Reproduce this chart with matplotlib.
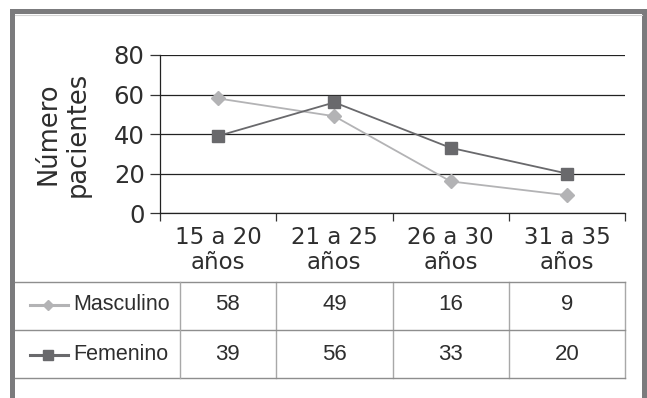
import matplotlib
matplotlib.use("Agg")
import matplotlib.pyplot as plt
from matplotlib.lines import Line2D
from matplotlib.patches import Rectangle
from matplotlib.transforms import blended_transform_factory

# Data
categories = ["15 a 20\naños", "21 a 25\naños", "26 a 30\naños", "31 a 35\naños"]
series_names = ["Masculino", "Femenino"]
masculino = [58, 49, 16, 9]
femenino = [39, 56, 33, 20]
y_ticks = [0, 20, 40, 60, 80]
y_label = "Número\npacientes"

W, H = 647, 398
fig = plt.figure(figsize=(W / 100, H / 100), dpi=100)
fig.patch.set_facecolor("white")
text_col = "#2e2e2e"


def fx(px):
    return px / W


def fy(py):
    return 1 - py / H


# Outer gray frame (open at the bottom)
frame_col = "#7b7b7d"
fig.add_artist(Rectangle((fx(10), fy(14)), fx(637), 5 / H, transform=fig.transFigure,
                         color=frame_col, lw=0))
fig.add_artist(Rectangle((fx(10), 0), fx(5), fy(9), transform=fig.transFigure,
                         color=frame_col, lw=0))
fig.add_artist(Rectangle((fx(642), 0), fx(5), fy(9), transform=fig.transFigure,
                         color=frame_col, lw=0))
fig.add_artist(Line2D([fx(15), fx(642)], [fy(15), fy(15)], transform=fig.transFigure,
                      color="#d4d4d4", lw=0.8))

# Plot area
ax = fig.add_axes([fx(160), fy(213), fx(625 - 160), (213 - 55) / H])
n = len(categories)
xs = [i + 0.5 for i in range(n)]

ax.set_xlim(0, n)
ax.set_ylim(0, 80)
ax.set_yticks(y_ticks)
ax.set_yticklabels([str(v) for v in y_ticks], fontsize=17.5, color=text_col,
                   family="DejaVu Sans")
ax.set_xticks(range(n + 1))
ax.set_xticklabels([])
ax.tick_params(axis="y", direction="out", length=7, width=0.9, color="#333333", pad=4)
ax.tick_params(axis="x", direction="out", length=6, width=0.9, color="#333333")
ax.grid(axis="y", color="#222222", lw=0.9)
ax.set_axisbelow(True)
for side in ("top", "right"):
    ax.spines[side].set_visible(False)
for side in ("left", "bottom"):
    ax.spines[side].set_color("#222222")
    ax.spines[side].set_linewidth(0.9)

col_m = "#b3b3b5"
col_f = "#69696c"
ax.plot(xs, masculino, color=col_m, lw=1.3, marker="D", ms=7.5, mec=col_m, mfc=col_m,
        clip_on=False, zorder=3)
ax.plot(xs, femenino, color=col_f, lw=1.3, marker="s", ms=8, mec=col_f, mfc=col_f,
        clip_on=False, zorder=3)

# Category labels below the axis
bt = blended_transform_factory(ax.transData, fig.transFigure)
for x, lab in zip(xs, categories):
    ax.text(x, fy(250), lab, transform=bt, ha="center", va="center", fontsize=16.5,
            color=text_col, linespacing=1.15, family="DejaVu Sans")

# Axis title
fig.text(fx(63), fy(134), y_label, rotation=90, ha="center", va="center",
         multialignment="center", fontsize=18.5, color=text_col, linespacing=1.15,
         family="DejaVu Sans")

# Data table beneath the chart
row_lines = [282, 330, 378]
row_centers = [305, 355]
grid_h = "#8e8e8e"
grid_v = "#a8a8a8"
for yy in row_lines:
    fig.add_artist(Line2D([fx(15), fx(625)], [fy(yy), fy(yy)], transform=fig.transFigure,
                          color=grid_h, lw=1.0))
# vertical dividers: label column edge, then the category boundaries
fig.add_artist(Line2D([fx(180), fx(180)], [fy(282), fy(378)], transform=fig.transFigure,
                      color=grid_v, lw=1.0))
for b in range(1, n + 1):
    ax.add_artist(Line2D([b, b], [fy(282), fy(378)], transform=bt, color=grid_v, lw=1.0,
                         clip_on=False))

table_font = ["Liberation Sans", "DejaVu Sans"]
series_vals = [masculino, femenino]
series_styles = [(col_m, "D", 5.5), (col_f, "s", 6.5)]
for r, (name, vals, (c, mk, ms)) in enumerate(zip(series_names, series_vals, series_styles)):
    yc = row_centers[r]
    fig.add_artist(Line2D([fx(30), fx(68)], [fy(yc), fy(yc)], transform=fig.transFigure,
                          color=c, lw=2.2))
    fig.add_artist(Line2D([fx(48)], [fy(yc)], transform=fig.transFigure, color=c,
                          marker=mk, ms=ms, mec=c, mfc=c, lw=0))
    fig.text(fx(73), fy(yc), name, ha="left", va="center", fontsize=15.5,
             color=text_col, family=table_font)
    for i, v in enumerate(vals):
        if i == 0:
            cx = (180 + 274) / 2
            ax.text(cx / W, fy(yc), str(v), transform=fig.transFigure, ha="center",
                    va="center", fontsize=16, color=text_col, family=table_font)
        else:
            ax.text(xs[i], fy(yc), str(v), transform=bt, ha="center", va="center",
                    fontsize=16, color=text_col, family=table_font)

fig.savefig("out.png", dpi=100, facecolor="white")
